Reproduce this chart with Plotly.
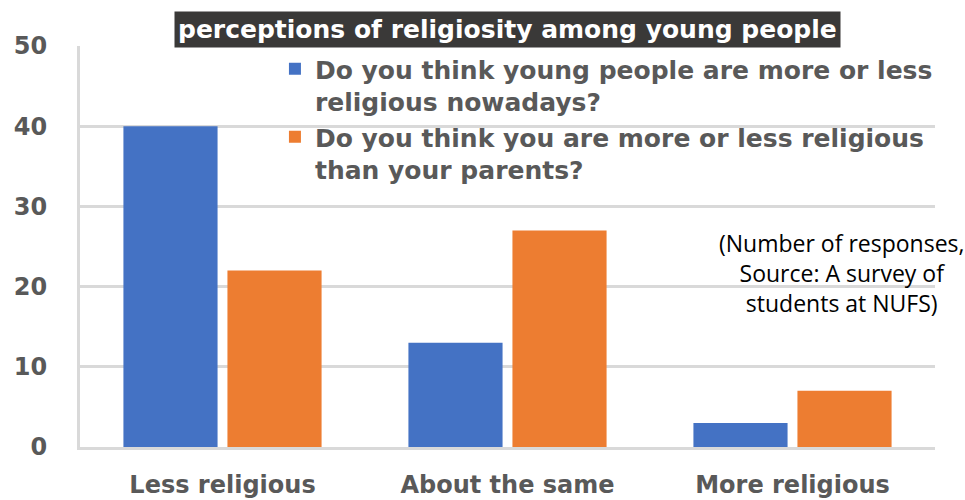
import plotly.graph_objects as go

categories = ["Less religious", "About the same", "More religious"]
series_names = [
    "Do you think young people are more or less<br>religious nowadays?",
    "Do you think you are more or less religious<br>than your parents?",
]
young_people = [40, 13, 3]
yourself = [22, 27, 7]
y_ticks = [0, 10, 20, 30, 40, 50]
title_text = "perceptions of religiosity among young people"
note_text = "(Number of responses,<br>Source: A survey of<br>students at NUFS)"

blue = "#4472C4"
orange = "#ED7D31"
grid = "#D9D9D9"
tickc = "#595959"

fig = go.Figure()
fig.add_trace(go.Bar(x=categories, y=young_people, name=series_names[0],
                     marker=dict(color=blue, line=dict(width=0))))
fig.add_trace(go.Bar(x=categories, y=yourself, name=series_names[1],
                     marker=dict(color=orange, line=dict(width=0))))

fig.update_layout(
    width=965, height=500,
    margin=dict(l=80, r=30, t=46, b=53),
    paper_bgcolor="white", plot_bgcolor="white",
    barmode="group", bargap=0.27, bargroupgap=0.095,
    showlegend=True,
    legend=dict(
        x=0.228, y=1.0, xanchor="left", yanchor="top",
        bgcolor="rgba(0,0,0,0)", borderwidth=0,
        font=dict(family="DejaVu Sans", size=25, color=tickc, weight="bold"),
        valign="top", itemsizing="constant", tracegroupgap=2,
        itemwidth=30,
    ),
    xaxis=dict(
        showgrid=False, showline=True, linecolor=grid, linewidth=3,
        tickfont=dict(family="DejaVu Sans", size=24, color=tickc, weight="bold"),
        ticks="", ticklabelstandoff=14, automargin=False,
    ),
    yaxis=dict(
        range=[0, 50], tickvals=y_ticks, showgrid=True, gridcolor=grid, gridwidth=3,
        showline=True, linecolor=grid, linewidth=3, zeroline=False,
        tickfont=dict(family="DejaVu Sans", size=24, color=tickc, weight="bold"),
        ticks="", ticklabelstandoff=25, automargin=False,
    ),
    annotations=[
        dict(text=title_text, xref="paper", yref="paper", x=0.5, y=1.042, yanchor="middle",
             xanchor="center", showarrow=False, bgcolor="#3A3938", borderpad=3,
             font=dict(family="DejaVu Sans", size=25, color="white", weight="bold")),
        dict(text=note_text, xref="paper", yref="paper", x=0.891, y=0.434,
             xanchor="center", yanchor="middle", showarrow=False, align="center",
             font=dict(family="Open Sans", size=23, color="black")),
    ],
)

fig.write_html("out.html")
